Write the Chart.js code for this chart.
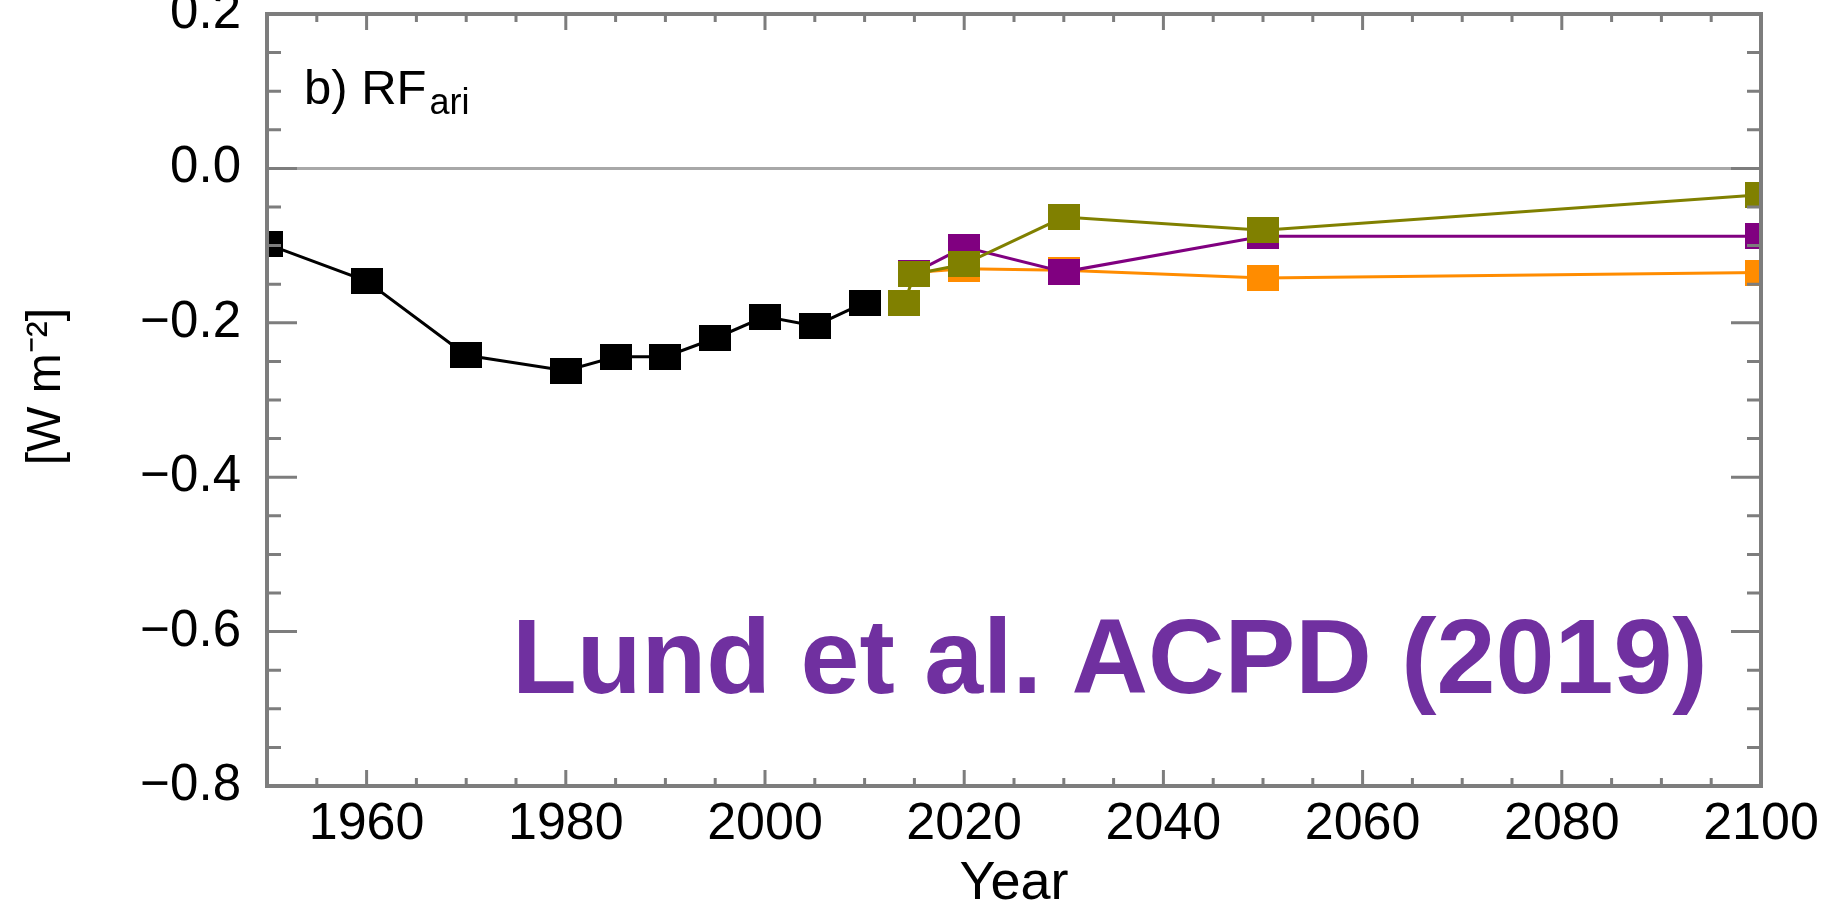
<!DOCTYPE html>
<html>
<head>
<meta charset="utf-8">
<script src="https://cdn.jsdelivr.net/npm/chart.js@4.4.1/dist/chart.umd.min.js"></script>
<style>
  html, body { margin: 0; padding: 0; background: #fff; }
  #wrap { width: 1845px; height: 908px; }
</style>
</head>
<body>
<div id="wrap"><canvas id="myChart"></canvas></div>
<script>
// values (W m-2)
const histYears = [1950, 1960, 1970, 1980, 1985, 1990, 1995, 2000, 2005, 2010];
const histValues = [-0.098, -0.146, -0.242, -0.262, -0.244, -0.244, -0.220, -0.192, -0.204, -0.174];
const oliveYears = [2014, 2015, 2020, 2030, 2050, 2100];
const oliveValues = [-0.174, -0.137, -0.124, -0.063, -0.080, -0.034];
const purpleYears = [2015, 2020, 2030, 2050, 2100];
const purpleValues = [-0.135, -0.102, -0.134, -0.088, -0.088];
const orangeYears = [2015, 2020, 2030, 2050, 2100];
const orangeValues = [-0.135, -0.130, -0.132, -0.142, -0.135];
const xTickLabels = [1960, 1980, 2000, 2020, 2040, 2060, 2080, 2100];
const yTickLabels = [0.2, 0.0, -0.2, -0.4, -0.6, -0.8];

const FONT = "'Liberation Sans', Arial, Helvetica, sans-serif";
const colors = {
  black: "#000000",
  olive: "#808000",
  purple: "#800080",
  orange: "#ff8c00",
  frame: "#7d7d7d",
  zero: "#a8a8a8",
  note: "#7030a0",
};

function square(color) {
  const c = document.createElement("canvas");
  c.width = 32;
  c.height = 26;
  const g = c.getContext("2d");
  g.fillStyle = color;
  g.fillRect(0, 0, c.width, c.height);
  return c;
}

const toPoints = (xs, ys) => xs.map((x, i) => ({ x, y: ys[i] }));

function series(xs, ys, color) {
  return {
    data: toPoints(xs, ys),
    borderColor: color,
    backgroundColor: color,
    borderWidth: 3,
    pointStyle: square(color),
    tension: 0,
    clip: 1,
  };
}

// frame with inward ticks on all four sides, plus the panel texts
const frameTicks = {
  id: "frameTicks",
  afterDraw(chart) {
    const { ctx, chartArea: a, scales: { x, y } } = chart;
    ctx.save();
    ctx.strokeStyle = colors.frame;
    ctx.lineWidth = 3;
    ctx.beginPath();
    for (let i = 0; i <= 20; i++) {
      const v = -0.8 + i * 0.05;
      const py = y.getPixelForValue(v);
      const len = i % 4 === 0 ? 30 : 14;
      ctx.moveTo(a.left, py);
      ctx.lineTo(a.left + len, py);
      ctx.moveTo(a.right, py);
      ctx.lineTo(a.right - len, py);
    }
    for (let yr = 1955; yr < 2100; yr += 5) {
      const px = x.getPixelForValue(yr);
      const len = (yr - 1960) % 20 === 0 ? 16 : 8;
      ctx.moveTo(px, a.bottom);
      ctx.lineTo(px, a.bottom - len);
      ctx.moveTo(px, a.top);
      ctx.lineTo(px, a.top + len);
    }
    ctx.stroke();
    ctx.lineWidth = 4;
    ctx.strokeRect(a.left, a.top, a.right - a.left, a.bottom - a.top);

    ctx.fillStyle = "#000";
    ctx.textBaseline = "alphabetic";
    ctx.font = "49px " + FONT;
    ctx.fillText("b) RF", a.left + 37, a.top + 90);
    const w = ctx.measureText("b) RF").width;
    ctx.font = "36px " + FONT;
    ctx.fillText("ari", a.left + 40 + w, a.top + 100);

    ctx.fillStyle = colors.note;
    ctx.font = "bold 106px " + FONT;
    ctx.fillText("Lund et al. ACPD (2019)", a.left + 245, a.top + 679);
    ctx.restore();
  },
};

new Chart(document.getElementById("myChart"), {
  type: "line",
  data: {
    datasets: [
      series(oliveYears, oliveValues, colors.olive),
      series(purpleYears, purpleValues, colors.purple),
      series(orangeYears, orangeValues, colors.orange),
      series(histYears, histValues, colors.black),
    ],
  },
  options: {
    responsive: true,
    maintainAspectRatio: false,
    animation: false,
    layout: {
      padding: { top: 14, right: 84, bottom: 0, left: 0 },
    },
    plugins: {
      legend: { display: false },
      tooltip: { enabled: false },
    },
    scales: {
      x: {
        type: "linear",
        min: 1950,
        max: 2100,
        afterBuildTicks: (scale) => {
          scale.ticks = xTickLabels.map((v) => ({ value: v }));
        },
        afterFit: (scale) => {
          scale.height = 122;
          scale.paddingLeft = 0;
          scale.paddingRight = 0;
        },
        grid: { display: false, drawTicks: false },
        border: { display: false },
        ticks: {
          color: "#000",
          padding: 7,
          maxRotation: 0,
          autoSkip: false,
          font: { family: FONT, size: 52 },
          callback: (v) => String(v),
        },
        title: {
          display: true,
          text: "Year",
          color: "#000",
          padding: { top: 0, bottom: -3 },
          font: { family: FONT, size: 54, lineHeight: 1 },
        },
      },
      y: {
        type: "linear",
        min: -0.8,
        max: 0.2,
        afterBuildTicks: (scale) => {
          scale.ticks = yTickLabels.map((v) => ({ value: v }));
        },
        afterFit: (scale) => {
          scale.width = 267;
          scale.paddingTop = 0;
          scale.paddingBottom = 0;
        },
        grid: {
          drawTicks: false,
          lineWidth: 3,
          color: (c) => (c.tick && c.tick.value === 0 ? colors.zero : "rgba(0,0,0,0)"),
        },
        border: { display: false },
        ticks: {
          color: "#000",
          padding: 26,
          font: { family: FONT, size: 51 },
          callback: (v) => (v < 0 ? "\u2212" : "") + Math.abs(v).toFixed(1),
        },
        title: {
          display: true,
          text: "  [W m\u207B\u00B2]",
          color: "#000",
          padding: { top: 18, bottom: 0 },
          font: { family: FONT, size: 48 },
        },
      },
    },
  },
  plugins: [frameTicks],
});
</script>
</body>
</html>
